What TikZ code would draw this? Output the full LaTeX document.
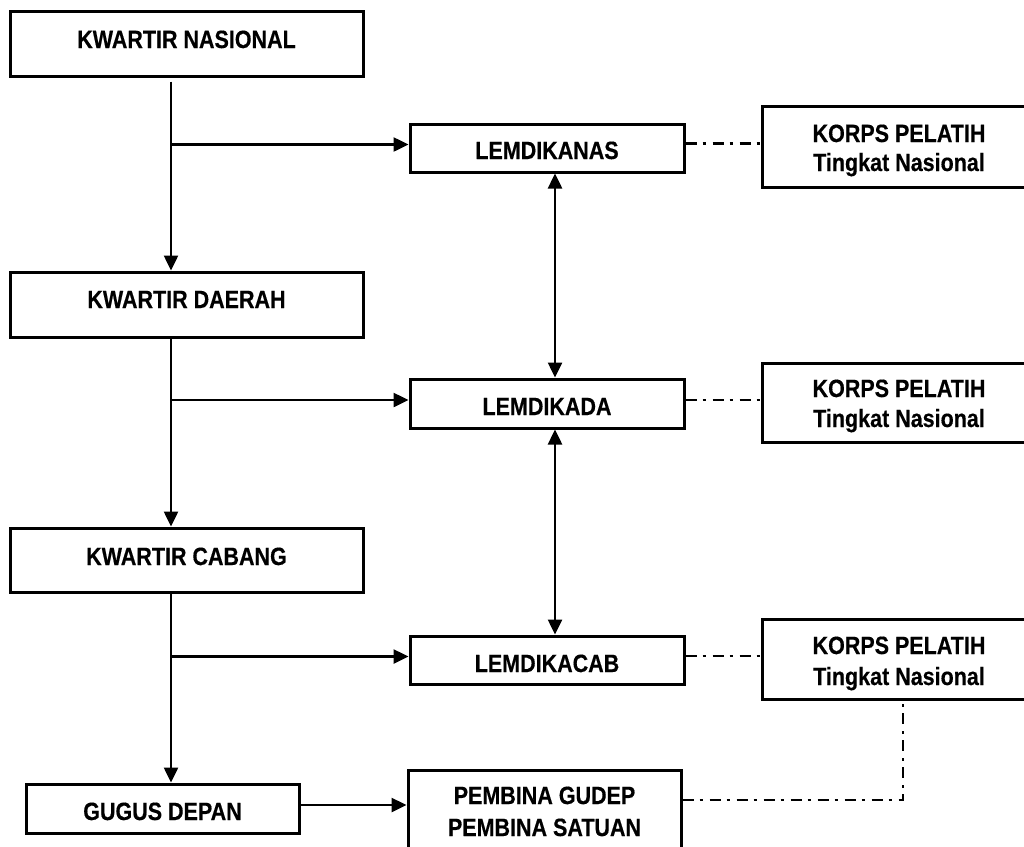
\documentclass[tikz,border=0pt]{standalone}
\usepackage{fontspec}
\setmainfont{Liberation Sans}[FakeStretch=0.86, BoldFeatures={FakeBold=0.4}]
\usetikzlibrary{arrows.meta}
\tikzset{
  box/.style={draw=black, line width=3pt, fill=white, rectangle, inner sep=0pt},
  lbl/.style={anchor=base, inner sep=0pt, font=\fontsize{25}{30}\selectfont\bfseries},
  conn/.style={line width=2.5pt, draw=black},
  arr/.style={conn, -{Triangle[length=15pt,width=14pt]}},
  darr/.style={conn, {Triangle[length=15pt,width=14pt]}-{Triangle[length=15pt,width=14pt]}},
  dd/.style={line width=2.5pt, dash pattern=on 11pt off 6pt on 3pt off 7pt}
}
\begin{document}
\begin{tikzpicture}[x=1pt,y=-1pt]
\useasboundingbox (0,0) rectangle (1024,846);
\clip (0,0) rectangle (1024,846);
\fill[white] (0,0) rectangle (1024,846);

% left column boxes
\node[box, minimum width=353pt, minimum height=65pt] (kn) at (186.5,43.5) {};
\node[box, minimum width=353pt, minimum height=65pt] (kd) at (186.5,304.5) {};
\node[box, minimum width=353pt, minimum height=64pt] (kc) at (186.5,560) {};
\node[box, minimum width=273pt, minimum height=49pt] (gd) at (162.5,808.5) {};

% middle column boxes
\node[box, minimum width=274pt, minimum height=48pt] (lnas) at (547,148) {};
\node[box, minimum width=274pt, minimum height=49pt] (lda) at (547,403.5) {};
\node[box, minimum width=274pt, minimum height=48pt] (lcab) at (547,660) {};
\node[box, minimum width=273pt, minimum height=110pt] (pb) at (544.5,825) {};

% right column boxes
\node[box, minimum width=274pt, minimum height=81pt] (k1) at (899,146.5) {};
\node[box, minimum width=274pt, minimum height=79pt] (k2) at (899,402.5) {};
\node[box, minimum width=274pt, minimum height=80pt] (k3) at (899,659) {};

% labels
\node[lbl] (knt) at (186.5,48) {KWARTIR NASIONAL};
\node[lbl] (kdt) at (186.5,308) {KWARTIR DAERAH};
\node[lbl] (kct) at (186.5,565) {KWARTIR CABANG};
\node[lbl] (gdt) at (162.5,820) {GUGUS DEPAN};
\node[lbl] (lnast) at (547,159) {LEMDIKANAS};
\node[lbl] (ldat) at (547,415) {LEMDIKADA};
\node[lbl] (lcabt) at (547,672) {LEMDIKACAB};
\node[lbl] (pbt1) at (544.5,804) {PEMBINA GUDEP};
\node[lbl] (pbt2) at (544.5,836) {PEMBINA SATUAN};
\node[lbl] (k1a) at (899,142) {KORPS PELATIH};
\node[lbl] (k1b) at (899,171) {Tingkat Nasional};
\node[lbl] (k2a) at (899,397) {KORPS PELATIH};
\node[lbl] (k2b) at (899,427) {Tingkat Nasional};
\node[lbl] (k3a) at (899,654) {KORPS PELATIH};
\node[lbl] (k3b) at (899,685) {Tingkat Nasional};

% helper coordinates
\coordinate (t) at (171,0);
\coordinate (col) at (555,0);
\coordinate (b1) at ([yshift=3.5pt]lnas.west);
\coordinate (b2) at ([yshift=3.5pt]lda.west);
\coordinate (b3) at ([yshift=3.5pt]lcab.west);
\coordinate (e1) at ([yshift=4.5pt]lnas.east);
\coordinate (e2) at ([yshift=3.5pt]lda.east);
\coordinate (e3) at ([yshift=4pt]lcab.east);
\coordinate (g1) at ([yshift=3.5pt]gd.east);
\coordinate (pd) at (903,800);

% trunk
\draw[arr, shorten <=4pt] (kn.south -| t) -- (kd.north -| t);
\draw[arr] (kd.south -| t) -- (kc.north -| t);
\draw[arr] (kc.south -| t) -- (gd.north -| t);

% branches
\draw[arr] (b1 -| t) -- (b1);
\draw[arr] (b2 -| t) -- (b2);
\draw[arr] (b3 -| t) -- (b3);
\draw[arr] (g1) -- (g1 -| pb.west);

% double arrows
\draw[darr] (lnas.south -| col) -- (lda.north -| col);
\draw[darr] (lda.south -| col) -- (lcab.north -| col);

% dash-dot connections
\draw[dd] (e1) -- (e1 -| k1.west);
\draw[dd] (e2) -- (e2 -| k2.west);
\draw[dd] (e3) -- (e3 -| k3.west);
\draw[dd] (pd -| pb.east) -- (pd) -- (k3.south -| pd);
\end{tikzpicture}
\end{document}
